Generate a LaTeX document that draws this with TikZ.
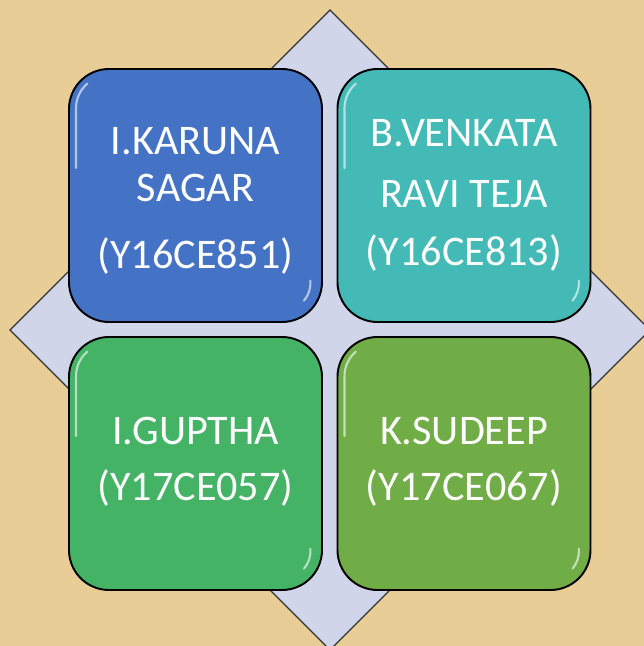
\documentclass[tikz,border=0pt]{standalone}
\usepackage{fontspec}
\setmainfont{Carlito}
\definecolor{parchment}{HTML}{E8CE96}
\definecolor{diamondfill}{HTML}{D0D5EA}
\definecolor{cardblue}{HTML}{4472C4}
\definecolor{cardteal}{HTML}{43BAB6}
\definecolor{cardgreen}{HTML}{45B366}
\definecolor{cardolive}{HTML}{70AD47}
\tikzset{
  card/.style={draw=black, line width=1.1pt, rounded corners=0.8cm, minimum size=5.06cm, inner sep=0pt},
  cardtext/.style={text=white, align=center, font=\fontsize{24}{27}\selectfont},
  gloss/.style={white, opacity=0.6, line width=1.2pt, line cap=round}
}
\begin{document}
\begin{tikzpicture}
\useasboundingbox (0,0) rectangle (12.88,12.92);
\fill[parchment] (0,0) rectangle (12.88,12.92);
% diamond behind the cards
\begin{scope}
\clip (0,0) rectangle (12.88,12.92);
\coordinate (T) at (6.6,12.72);
\coordinate (L) at (0.2,6.32);
\coordinate (B) at (6.6,-0.08);
\coordinate (R) at (13.0,6.32);
\draw[fill=diamondfill, draw=black!80, line width=0.8pt] (T) -- (L) -- (B) -- (R) -- cycle;
\end{scope}
% cards
\node[card, fill=cardblue] (karuna) at (3.91,9.01) {};
\node[card, fill=cardteal] (venkata) at (9.28,9.01) {};
\node[card, fill=cardgreen] (guptha) at (3.91,3.65) {};
\node[card, fill=cardolive] (sudeep) at (9.28,3.65) {};
\foreach \c in {karuna,venkata,guptha,sudeep} {
  \draw[gloss] ([shift={(0.16,-2.0)}]\c.north west) -- ++(0,1.2)
    arc[start angle=180, end angle=130, radius=0.64];
  \draw[gloss] ([shift={(-0.8,0.8)}]\c.south east) ++(5:0.55)
    arc[start angle=5, end angle=-40, radius=0.55];
}
% names
\node[cardtext] (karunatext) at ([yshift=-0.11cm]karuna.center) {I.KARUNA\\SAGAR\\[11pt](Y16CE851)};
\node[cardtext] (venkatatext) at (venkata.center) {B.VENKATA\\[8pt]RAVI TEJA\\[6pt](Y16CE813)};
\node[cardtext] (gupthatext) at ([yshift=0.04cm]guptha.center) {I.GUPTHA\\[5pt](Y17CE057)};
\node[cardtext] (sudeeptext) at ([yshift=0.04cm]sudeep.center) {K.SUDEEP\\[5pt](Y17CE067)};
\end{tikzpicture}
\end{document}
